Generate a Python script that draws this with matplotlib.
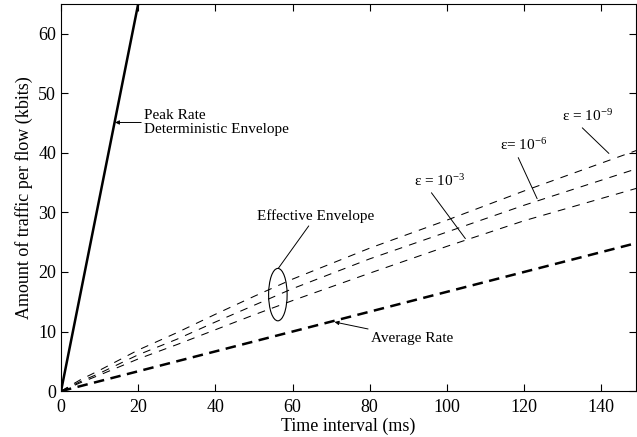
import matplotlib
matplotlib.use("Agg")
import matplotlib.pyplot as plt
from matplotlib.patches import Ellipse

plt.rcParams['font.family'] = ['Liberation Serif', 'DejaVu Serif']
plt.rcParams['mathtext.fontset'] = 'custom'
plt.rcParams['mathtext.rm'] = 'Liberation Serif'
plt.rcParams['mathtext.default'] = 'regular'

# data
t_peak = [0, 20]
peak = [0, 65]

t_avg = [0, 150]
avg = [0, 25]

t_eff = [0, 5, 10, 20, 30, 40, 50, 60, 80, 100, 120, 150]
eff_9 = [0, 1.9, 3.5, 6.9, 9.8, 12.9, 15.9, 18.8, 24.0, 28.7, 33.6, 40.6]
eff_6 = [0, 1.6, 3.0, 6.1, 8.7, 11.6, 14.4, 17.2, 22.2, 26.7, 31.2, 37.5]
eff_3 = [0, 1.4, 2.7, 5.4, 7.8, 10.3, 12.8, 15.2, 19.8, 24.3, 28.6, 34.2]

fig = plt.figure(figsize=(6.37, 4.37), dpi=100)
ax = fig.add_axes([0.0958, 0.105, 0.9025, 0.886])

ax.plot(t_peak, peak, color='black', lw=1.8, solid_capstyle='butt')
ax.plot(t_avg, avg, color='black', lw=1.8, dashes=(4.2, 2.6))
for e in (eff_9, eff_6, eff_3):
    ax.plot(t_eff, e, color='black', lw=0.75, dashes=(7.5, 7))

ax.add_patch(Ellipse((56.2, 16.2), 4.8, 8.8, fill=False, lw=0.8, color='black'))

txt = dict(fontsize=11, color='black')
arr = dict(arrowstyle='-|>', color='black', lw=0.7, mutation_scale=6, shrinkA=0, shrinkB=0)
ax.annotate('Peak Rate\nDeterministic Envelope', xy=(14.0, 45.1), xytext=(21.5, 45.1),
            va='center', ha='left', arrowprops=arr, linespacing=1.05, **txt)
ax.annotate('Average Rate', xy=(70.9, 11.6), xytext=(80.3, 8.9),
            va='center', ha='left', arrowprops=arr, **txt)

line = dict(arrowstyle='-', color='black', lw=0.7, shrinkA=0, shrinkB=0)
ax.annotate('Effective Envelope', xy=(56.3, 20.6), xytext=(66, 28.2),
            ha='center', va='bottom', arrowprops=line, **txt)
ax.annotate('', xy=(104.8, 25.6), xytext=(96.0, 33.3), arrowprops=line)
ax.annotate('', xy=(123.4, 32.3), xytext=(118.5, 39.2), arrowprops=line)
ax.annotate('', xy=(142.0, 39.9), xytext=(135.1, 44.2), arrowprops=line)
ax.text(98, 34.0, r'ε = 10$^{-3}$', ha='center', va='bottom', **txt)
ax.text(120, 39.9, r'ε= 10$^{-6}$', ha='center', va='bottom', **txt)
ax.text(136.4, 44.8, r'ε = 10$^{-9}$', ha='center', va='bottom', **txt)

ax.set_xlim(0, 149)
ax.set_ylim(0, 65)
ax.set_xticks([0, 20, 40, 60, 80, 100, 120, 140])
ax.set_yticks([0, 10, 20, 30, 40, 50, 60])
ax.tick_params(direction='in', top=True, right=True, length=5, width=0.8, labelsize=13)
ax.tick_params(axis='x', pad=6)
for s in ax.spines.values():
    s.set_linewidth(0.8)
ax.set_xlabel('Time interval (ms)', fontsize=13, labelpad=1)
ax.set_ylabel('Amount of traffic per flow (kbits)', fontsize=13, labelpad=4)

fig.savefig('out.png', dpi=100)
